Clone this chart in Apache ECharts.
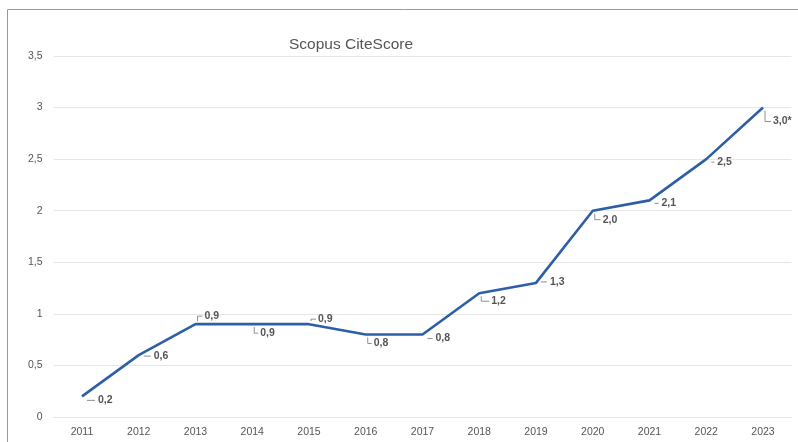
<!DOCTYPE html>
<html>
<head>
<meta charset="utf-8">
<script src="https://cdn.jsdelivr.net/npm/echarts@6/dist/echarts.min.js"></script>
<style>
  html, body { margin: 0; padding: 0; background: #fff; }
  #chart { width: 798px; height: 442px; }
</style>
</head>
<body>
<div id="chart"></div>
<script>
const years = ['2011', '2012', '2013', '2014', '2015', '2016', '2017',
               '2018', '2019', '2020', '2021', '2022', '2023']
const citeScore = [0.2, 0.6, 0.9, 0.9, 0.9, 0.8, 0.8, 1.2, 1.3, 2.0, 2.1, 2.5, 3.0]
const footnotes = ['', '', '', '', '', '', '', '', '', '', '', '', '*']
const yTicks = [0, 0.5, 1, 1.5, 2, 2.5, 3, 3.5]

// where each value label sits relative to its point: [dx to text, dy to text]
const labelOffsets = [
  [16, 4], [15, 1], [9, -8], [8, 9], [9, -5], [8, 9], [13, 4],
  [12, 8], [14, -1], [10, 9], [12, 3], [11, 3], [10, 14]
]

const fmt = v => v.toFixed(1).replace('.', ',')
const axisFmt = v => String(v).replace('.', ',')

const chart = echarts.init(document.getElementById('chart'))

chart.setOption({
  animation: false,
  textStyle: { fontFamily: 'Liberation Sans, Arial, sans-serif' },
  title: {
    text: 'Scopus CiteScore',
    left: 346,
    textAlign: 'center',
    top: 32,
    textStyle: { fontSize: 15.5, fontWeight: 'normal', color: '#555' }
  },
  graphic: [{
    type: 'rect',
    shape: { x: 7.5, y: 9.5, width: 900, height: 600 },
    style: { fill: 'none', stroke: '#9a9a9a', lineWidth: 1 },
    silent: true
  }],
  grid: { left: 53.6, right: 6.6, top: 56, bottom: 25 },
  xAxis: {
    type: 'category',
    data: years,
    boundaryGap: true,
    axisLine: { show: true, lineStyle: { color: '#e4e4e4', width: 1 } },
    axisTick: { show: false },
    axisLabel: { fontSize: 10.5, color: '#555', margin: 10 }
  },
  yAxis: {
    type: 'value',
    min: yTicks[0],
    max: yTicks[yTicks.length - 1],
    interval: 0.5,
    axisLine: { show: false },
    axisTick: { show: false },
    splitLine: { lineStyle: { color: '#e6e6e6', width: 1 } },
    axisLabel: { fontSize: 10.5, color: '#555', margin: 11, formatter: axisFmt }
  },
  series: [
    {
      type: 'line',
      data: citeScore,
      symbol: 'none',
      lineStyle: { color: '#2d5fa6', width: 2.6 },
      z: 3
    },
    {
      type: 'custom',
      data: citeScore.map((v, i) => [i, v]),
      encode: { x: 0, y: 1 },
      z: 4,
      renderItem: (params, api) => {
        const i = params.dataIndex
        const p = api.coord([api.value(0), api.value(1)])
        const [dx, dy] = labelOffsets[i]
        const x = p[0], y = p[1]
        let pts
        if (Math.abs(dy) >= 5) {
          const s = dy > 0 ? 1 : -1
          pts = [[x + 2, y + s * 3], [x + 2, y + dy], [x + dx - 2, y + dy]]
        } else {
          pts = [[x + 5, y + dy], [x + dx - 3, y + dy]]
        }
        return {
          type: 'group',
          children: [
            {
              type: 'polyline',
              shape: { points: pts },
              style: { stroke: '#8f8f8f', lineWidth: 1, fill: 'none' }
            },
            {
              type: 'text',
              x: x + dx,
              y: y + dy,
              style: {
                text: fmt(citeScore[i]) + footnotes[i],
                fontSize: 10.5,
                fontWeight: 'bold',
                fill: '#555',
                align: 'left',
                verticalAlign: 'middle',
                fontFamily: 'Liberation Sans, Arial, sans-serif'
              }
            }
          ]
        }
      }
    }
  ]
})
</script>
</body>
</html>
